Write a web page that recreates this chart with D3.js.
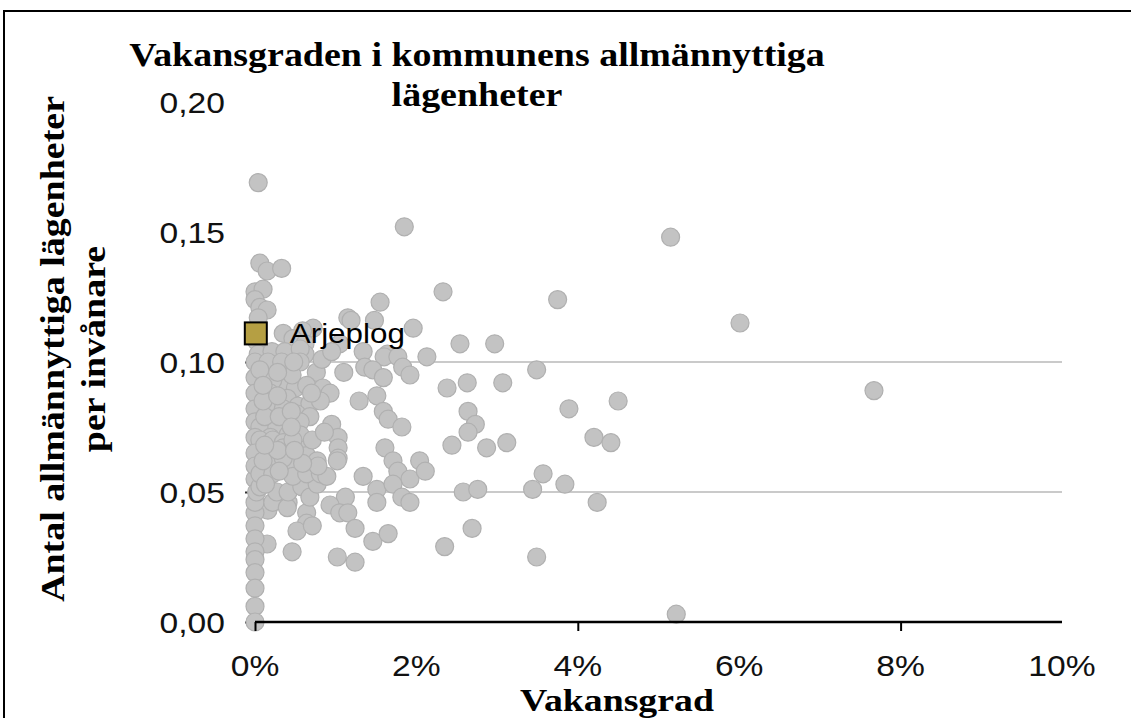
<!DOCTYPE html>
<html>
<head>
<meta charset="utf-8">
<script src="https://cdn.jsdelivr.net/npm/d3@7"></script>
<style>
  html, body { margin: 0; padding: 0; background: #fff; }
  svg { display: block; }
</style>
</head>
<body>
<svg id="chart" width="1131" height="718"></svg>
<script>
// Vacancy rate (%) and public housing flats per inhabitant, one pair per municipality
const municipalities = [
  [0.04,0.169],[1.85,0.152],[5.15,0.148],[2.33,0.127],[3.75,0.124],[1.55,0.123],[6.01,0.115],[7.67,0.089],[5.22,0.003],
  [0.06,0.138],[0.15,0.135],[0.33,0.136],
  [0.00,0.127],[0.10,0.128],[0.00,0.124],[0.06,0.121],[0.15,0.120],[0.04,0.117],[0.02,0.108],
  [1.15,0.117],[1.19,0.116],[1.48,0.116],[0.72,0.113],[1.96,0.113],
  [0.35,0.111],[0.59,0.112],[0.47,0.109],[0.62,0.107],[1.05,0.107],[1.34,0.104],[1.64,0.103],
  [2.13,0.102],[2.54,0.107],[2.97,0.107],
  [1.60,0.102],[1.77,0.102],[1.36,0.098],[1.46,0.097],[1.59,0.094],[1.83,0.098],[1.92,0.095],
  [2.38,0.090],[2.63,0.092],[3.07,0.092],[3.49,0.097],
  [0.76,0.096],[1.10,0.096],[0.62,0.103],[0.83,0.101],[0.95,0.104],
  [1.29,0.085],[1.51,0.087],[1.59,0.081],[1.65,0.078],[1.82,0.075],
  [2.64,0.081],[2.73,0.076],[2.64,0.073],[2.44,0.068],[2.87,0.067],[3.12,0.069],
  [3.89,0.082],[4.50,0.085],[4.20,0.071],[4.41,0.069],[3.57,0.057],[3.44,0.051],[3.84,0.053],[4.24,0.046],[3.49,0.025],
  [2.58,0.050],[2.76,0.051],[2.69,0.036],[2.35,0.029],
  [0.95,0.076],[1.03,0.071],[1.03,0.067],[1.03,0.063],
  [1.61,0.067],[1.71,0.062],[1.77,0.058],[1.92,0.055],[2.04,0.062],[2.11,0.058],[1.34,0.056],[1.51,0.051],
  [1.51,0.046],[1.71,0.053],[1.82,0.048],[1.92,0.046],
  [1.12,0.048],[0.93,0.045],[1.05,0.042],[1.15,0.042],[1.24,0.036],[1.02,0.025],[1.24,0.023],[1.46,0.031],[1.65,0.034],
  [0.64,0.042],[0.64,0.038],[0.52,0.035],[0.71,0.037],[0.46,0.027],[0.15,0.030],[0.41,0.046],[0.16,0.043],
  [0.00,0.042],[0.00,0.037],[0.00,0.032],[0.00,0.027],[0.00,0.024],[0.00,0.019],[0.00,0.013],[0.00,0.006],
  [0.00,0.000],[0.00,0.046],[0.00,0.055],
  [0.22,0.046],[0.27,0.050],[0.40,0.044],[0.02,0.050],[0.06,0.052],[0.41,0.050],[0.58,0.052],[0.68,0.048],[0.77,0.053],
  [0.04,0.103],[0.21,0.104],[0.37,0.104],[0.56,0.105],
  [0.00,0.100],[0.16,0.100],[0.33,0.100],[0.56,0.100],
  [0.00,0.094],[0.15,0.094],[0.31,0.092],[0.22,0.093],[0.06,0.097],
  [0.50,0.090],[0.64,0.091],[0.84,0.090],[0.93,0.088],
  [0.00,0.088],[0.19,0.088],[0.40,0.086],
  [0.00,0.082],[0.16,0.082],[0.35,0.082],[0.53,0.083],[0.68,0.084],[0.81,0.085],[0.52,0.080],[0.68,0.079],
  [0.00,0.077],[0.19,0.077],[0.40,0.078],[0.56,0.077],[0.06,0.075],[0.27,0.075],
  [0.00,0.071],[0.19,0.071],[0.41,0.072],[0.56,0.072],
  [0.06,0.070],[0.22,0.070],[0.35,0.069],
  [0.00,0.065],[0.19,0.065],[0.35,0.067],[0.59,0.066],
  [0.00,0.060],[0.22,0.061],[0.43,0.062],[0.64,0.064],[0.77,0.062],[1.02,0.062],[0.35,0.063],
  [0.06,0.057],[0.22,0.057],[0.47,0.056],[0.64,0.057],[0.81,0.057],[0.89,0.056],[0.78,0.060],[0.59,0.061],
  [0.10,0.062],[0.28,0.066],[0.12,0.079],[0.30,0.079],[0.10,0.085],[0.28,0.087],[0.46,0.095],[0.10,0.091],
  [0.45,0.081],[0.47,0.070],[0.30,0.058],[0.13,0.053],[0.49,0.066],[0.45,0.075],[0.12,0.068],[0.28,0.096],
  [0.48,0.100],[0.70,0.088],[0.71,0.070],[0.86,0.073]
];

// Highlighted municipality
const highlightName = ["Arjeplog"];
const highlightRate = [0.01];
const highlightFlats = [0.111];

// Axis ticks
const xTickLabels = [0, 2, 4, 6, 8, 10];
const xTickMarks = [0, 4, 8];
const yTickLabels = [0, 0.05, 0.10, 0.15, 0.20];
const yTickMarks = [0, 0.05, 0.10];
const gridValues = [0.05, 0.10];

const titleLines = ["Vakansgraden i kommunens allmännyttiga", "lägenheter"];
const yTitleLines = ["Antal allmännyttiga lägenheter", "per invånare"];
const xTitle = "Vakansgrad";

const svg = d3.select("#chart");

const x = d3.scaleLinear().domain([0, 10]).range([255, 1062]);
const y = d3.scaleLinear().domain([0, 0.20]).range([622, 102]);

const serif = "'Liberation Serif', 'Times New Roman', serif";
const sans = "'Liberation Sans', Arial, sans-serif";

// Widen text along its baseline
function stretch(sel, k) {
  sel.each(function () {
    const w = this.getComputedTextLength();
    d3.select(this).attr("textLength", w * k).attr("lengthAdjust", "spacingAndGlyphs");
  });
}

// Outer frame
svg.append("rect")
  .attr("x", 4).attr("y", 11).attr("width", 1300).attr("height", 900)
  .attr("fill", "none").attr("stroke", "#000").attr("stroke-width", 2);

// Horizontal gridlines
svg.append("g")
  .selectAll("line").data(gridValues).join("line")
  .attr("x1", x(0)).attr("x2", x(10))
  .attr("y1", d => y(d)).attr("y2", d => y(d))
  .attr("stroke", "#cacaca").attr("stroke-width", 2);

// Y axis: labels and short tick marks
const yAxis = d3.axisLeft(y).tickValues(yTickMarks).tickSize(5).tickFormat("");
const gy = svg.append("g").attr("transform", `translate(${x(0) - 5},0)`).call(yAxis);
gy.select(".domain").remove();
gy.selectAll(".tick line").attr("stroke", "#333").attr("stroke-width", 2);

svg.append("g")
  .selectAll("text").data(yTickLabels).join("text")
  .attr("x", 225).attr("y", d => y(d))
  .attr("dy", "0.36em")
  .attr("text-anchor", "end")
  .attr("font-family", sans).attr("font-size", 30).attr("fill", "#111")
  .text(d => d3.format(".2f")(d).replace(".", ","))
  .call(stretch, 1.12);

// Points
svg.append("g")
  .selectAll("circle").data(municipalities).join("circle")
  .attr("cx", d => x(d[0])).attr("cy", d => y(d[1]))
  .attr("r", 9)
  .attr("fill", "#c3c3c3")
  .attr("stroke", "#b0b0b0").attr("stroke-width", 1.2);

// X axis
const xAxis = d3.axisBottom(x).tickValues(xTickMarks).tickSize(9).tickFormat("");
const gx = svg.append("g").attr("transform", `translate(0,${y(0)})`).call(xAxis);
gx.select(".domain").attr("stroke", "#000").attr("stroke-width", 2.5).attr("d", `M${x(0)},0H${x(10)}`);
gx.selectAll(".tick line").attr("stroke", "#000").attr("stroke-width", 2);

svg.append("g")
  .selectAll("text").data(xTickLabels).join("text")
  .attr("x", d => x(d)).attr("y", 676)
  .attr("text-anchor", "middle")
  .attr("font-family", sans).attr("font-size", 30).attr("fill", "#111")
  .text(d => d + "%")
  .call(stretch, 1.12);

// Highlighted municipality marker and label
const hl = highlightName.map((n, i) => ({ name: n, rate: highlightRate[i], flats: highlightFlats[i] }));
svg.append("g")
  .selectAll("rect").data(hl).join("rect")
  .attr("x", d => x(d.rate) - 11).attr("y", d => y(d.flats) - 11)
  .attr("width", 22).attr("height", 22)
  .attr("fill", "#b59f43").attr("stroke", "#000").attr("stroke-width", 2);
svg.append("g")
  .selectAll("text").data(hl).join("text")
  .attr("x", d => x(d.rate) + 34).attr("y", d => y(d.flats))
  .attr("dy", "0.36em")
  .attr("font-family", sans).attr("font-size", 28).attr("fill", "#000")
  .text(d => d.name)
  .call(stretch, 1.12);

// Titles
svg.append("g")
  .selectAll("text").data(titleLines).join("text")
  .attr("x", 477).attr("y", (d, i) => 66 + i * 40)
  .attr("text-anchor", "middle")
  .attr("font-family", serif).attr("font-weight", "bold").attr("font-size", 33).attr("fill", "#000")
  .text(d => d)
  .call(stretch, 1.15);

svg.append("g")
  .selectAll("text").data(yTitleLines).join("text")
  .attr("transform", (d, i) => `translate(${64 + i * 41},349) rotate(-90)`)
  .attr("text-anchor", "middle")
  .attr("font-family", serif).attr("font-weight", "bold").attr("font-size", 33).attr("fill", "#000")
  .text(d => d)
  .call(stretch, 1.15);

svg.append("text")
  .attr("x", 617).attr("y", 711)
  .attr("text-anchor", "middle")
  .attr("font-family", serif).attr("font-weight", "bold").attr("font-size", 32).attr("fill", "#000")
  .text(xTitle)
  .call(stretch, 1.18);
</script>
</body>
</html>
